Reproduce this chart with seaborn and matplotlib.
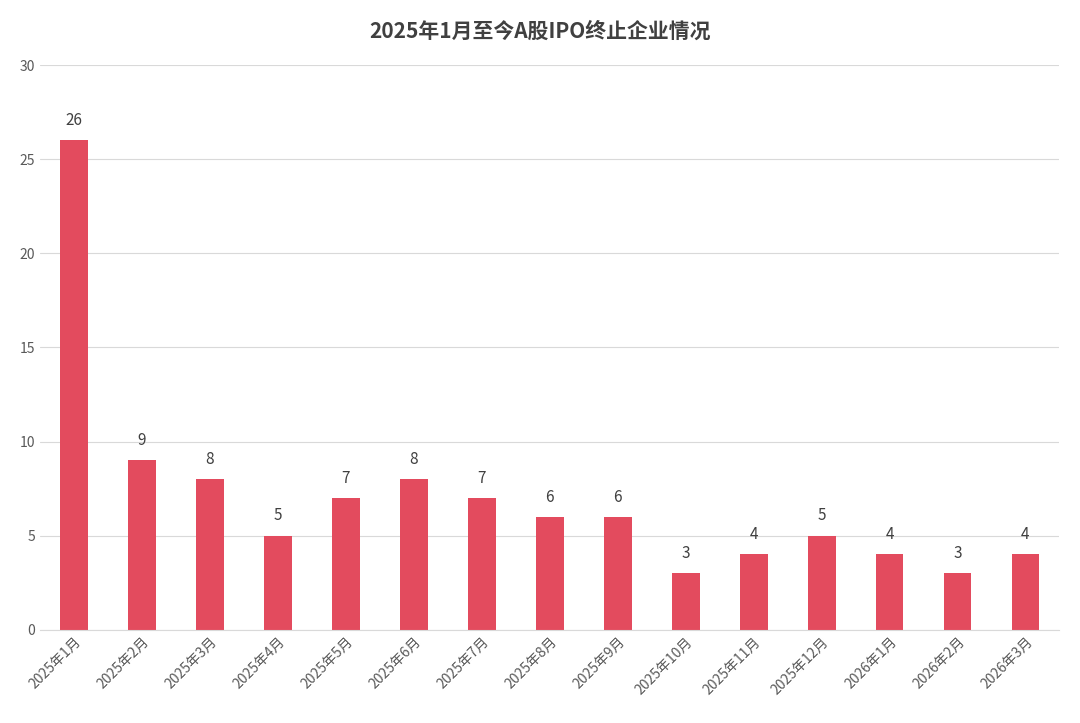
import matplotlib
matplotlib.use("Agg")
import matplotlib.pyplot as plt
import seaborn as sns
import pandas as pd

months = ["2025年1月", "2025年2月", "2025年3月", "2025年4月", "2025年5月", "2025年6月",
          "2025年7月", "2025年8月", "2025年9月", "2025年10月", "2025年11月", "2025年12月",
          "2026年1月", "2026年2月", "2026年3月"]
counts = [26, 9, 8, 5, 7, 8, 7, 6, 6, 3, 4, 5, 4, 3, 4]

df = pd.DataFrame({"month": months, "count": counts})

sns.set_style("white")
plt.rcParams['font.family'] = ['Noto Sans CJK SC', 'DejaVu Sans']

fig = plt.figure(figsize=(10.8, 7.23), dpi=100)
ax = fig.add_axes([0.037, 0.129, 0.944, 0.781])

sns.barplot(data=df, x="month", y="count", color="#E34B5E", width=0.41, saturation=1,
            linewidth=0, ax=ax)

for i, v in enumerate(counts):
    ax.text(i, v + 0.6, str(v), ha="center", va="bottom", fontsize=11, color="#404040")

ax.set_ylim(0, 30)
ax.set_yticks(range(0, 31, 5))
ax.grid(axis="y", color="#D9D9D9", linewidth=0.8)
ax.set_axisbelow(True)
for s in ["top", "right", "left"]:
    ax.spines[s].set_visible(False)
ax.spines["bottom"].set_color("#D9D9D9")
ax.tick_params(axis="both", length=0, colors="#595959", labelsize=10)
plt.setp(ax.get_xticklabels(), rotation=45, ha="right", rotation_mode="anchor")
ax.set_xlabel("")
ax.set_ylabel("")
ax.set_xlim(-0.5, len(months) - 0.5)

fig.suptitle("2025年1月至今A股IPO终止企业情况", y=0.972, fontsize=15, fontweight="bold", color="#404040")

fig.savefig("out.png", dpi=100)
